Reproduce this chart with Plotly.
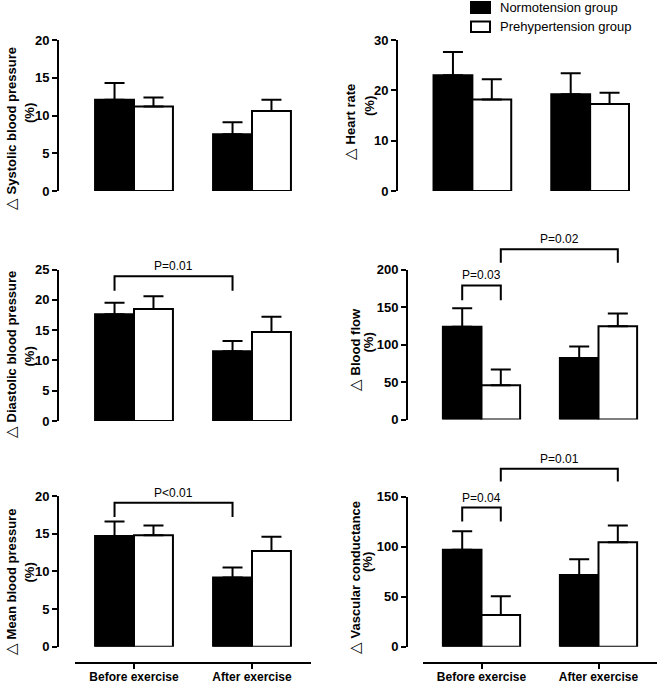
import plotly.graph_objects as go

# Figure size (px)
W, H = 661, 683

# Data (mean change in %, SEM)

categories = ["Before exercise", "After exercise"]
groups = ["Normotension group", "Prehypertension group"]

sbp_normo = [12.1, 7.5]
sbp_normo_sem = [2.2, 1.6]
sbp_pre = [11.2, 10.6]
sbp_pre_sem = [1.2, 1.5]

hr_normo = [23.0, 19.2]
hr_normo_sem = [4.6, 4.2]
hr_pre = [18.2, 17.3]
hr_pre_sem = [4.0, 2.2]

dbp_normo = [17.6, 11.5]
dbp_normo_sem = [1.9, 1.7]
dbp_pre = [18.5, 14.7]
dbp_pre_sem = [2.1, 2.5]

bf_normo = [123.5, 82.1]
bf_normo_sem = [24.9, 15.2]
bf_pre = [45.7, 124.4]
bf_pre_sem = [21.0, 16.9]

mbp_normo = [14.7, 9.2]
mbp_normo_sem = [1.9, 1.3]
mbp_pre = [14.8, 12.7]
mbp_pre_sem = [1.3, 1.9]

vc_normo = [96.7, 71.7]
vc_normo_sem = [18.6, 15.6]
vc_pre = [31.7, 104.3]
vc_pre_sem = [18.6, 16.7]

panel_titles = ["Systolic blood pressure", "Heart rate", "Diastolic blood pressure",
                "Blood flow", "Mean blood pressure", "Vascular conductance"]
y_max = [20, 30, 25, 200, 20, 150]
y_dtick = [5, 10, 5, 50, 5, 50]

# significance brackets: panel, (group, series) from, (group, series) to, top, leg end, label
brackets = [
    (3, (0, 0), (1, 0), 23.9, 21.5, "P=0.01"),
    (4, (0, 0), (0, 1), 178.7, 159, "P=0.03"),
    (4, (0, 1), (1, 1), 227, 209, "P=0.02"),
    (5, (0, 0), (1, 0), 19.1, 17.2, "P<0.01"),
    (6, (0, 0), (0, 1), 139, 125, "P=0.04"),
    (6, (0, 1), (1, 1), 177.7, 165, "P=0.01"),
]

panels = [
    (sbp_normo, sbp_normo_sem, sbp_pre, sbp_pre_sem),
    (hr_normo, hr_normo_sem, hr_pre, hr_pre_sem),
    (dbp_normo, dbp_normo_sem, dbp_pre, dbp_pre_sem),
    (bf_normo, bf_normo_sem, bf_pre, bf_pre_sem),
    (mbp_normo, mbp_normo_sem, mbp_pre, mbp_pre_sem),
    (vc_normo, vc_normo_sem, vc_pre, vc_pre_sem),
]

# Layout geometry in pixels: y-axis x, x-domain, y-domain (top, bottom),
# title line centre, "(%)" centre
geom = [
    dict(yax=58, xd=(75, 311), yd=(40, 191), t1=(10, 129), t2=(29.5, 113.5)),
    dict(yax=397, xd=(413.5, 649), yd=(40, 191), t1=(349, 122), t2=(369, 106)),
    dict(yax=58, xd=(75, 311), yd=(269.5, 421), t1=(10, 355), t2=(28.5, 357)),
    dict(yax=407, xd=(423, 657), yd=(269.5, 419.5), t1=(354, 350), t2=(368, 342.5)),
    dict(yax=58, xd=(75, 311), yd=(496, 646.7), t1=(10, 582), t2=(29, 572.5)),
    dict(yax=407, xd=(423, 657), yd=(496.5, 646.7), t1=(354, 578), t2=(367.5, 562.5)),
]
X_AXIS_Y = 663.3
BARGAP = 0.34
FONT = "Arial, Liberation Sans, sans-serif"


def px_x(v):
    return v / W


def px_y(v):
    return 1 - v / H


fig = go.Figure()
layout = {}
shapes = []
annotations = []
colors = ["black", "white"]

for i, (normo, normo_sem, pre, pre_sem) in enumerate(panels):
    n = i + 1
    g = geom[i]
    for k, (vals, sem) in enumerate([(normo, normo_sem), (pre, pre_sem)]):
        fig.add_trace(go.Bar(
            x=categories,
            y=vals,
            name=groups[k],
            xaxis=f"x{n}",
            yaxis=f"y{n}",
            marker=dict(color=colors[k], line=dict(color="black", width=2)),
            error_y=dict(
                type="data",
                symmetric=False,
                array=sem,
                arrayminus=[0] * len(sem),
                color="black",
                thickness=2,
                width=10
            ),
            showlegend=False
        ))

    bottom = n >= 5
    layout[f"xaxis{n}"] = dict(
        domain=[px_x(g["xd"][0]), px_x(g["xd"][1])],
        type="category",
        range=[-0.5, 1.5],
        anchor="free",
        position=px_y(X_AXIS_Y) if bottom else px_y(g["yd"][1]),
        visible=bottom,
        showline=True,
        linecolor="black",
        linewidth=2,
        ticks="outside",
        ticklen=5,
        tickwidth=2,
        tickcolor="black",
        showgrid=False,
        automargin=False,
        ticklabelstandoff=-3,
        tickfont=dict(family=FONT, size=12, color="black", weight="bold"),
        fixedrange=True
    )
    layout[f"yaxis{n}"] = dict(
        domain=[px_y(g["yd"][1]), px_y(g["yd"][0])],
        range=[0, y_max[i]],
        dtick=y_dtick[i],
        anchor="free",
        position=px_x(g["yax"]),
        showline=True,
        linecolor="black",
        linewidth=2,
        ticks="outside",
        ticklen=5,
        tickwidth=2,
        tickcolor="black",
        showgrid=False,
        zeroline=False,
        automargin=False,
        tickfont=dict(family=FONT, size=13, color="black", weight="bold"),
        fixedrange=True
    )

    # axis titles
    annotations.append(dict(
        text=f"<span style='font-size:15px'>△</span> <b>{panel_titles[i]}</b>",
        xref="paper", yref="paper",
        x=px_x(g["t1"][0]), y=px_y(g["t1"][1]),
        xanchor="center", yanchor="middle",
        textangle=-90, showarrow=False,
        font=dict(family=FONT, size=13, color="black")
    ))
    annotations.append(dict(
        text="<b>(%)</b>",
        xref="paper", yref="paper",
        x=px_x(g["t2"][0]), y=px_y(g["t2"][1]),
        xanchor="center", yanchor="middle",
        textangle=-90, showarrow=False,
        font=dict(family=FONT, size=13, color="black")
    ))

# Significance brackets
half = (1 - BARGAP) / 4


def bar_x(pos):
    grp, ser = pos
    return grp + (-half if ser == 0 else half)


for n, a, b, top, leg, label in brackets:
    ymx = y_max[n - 1]
    x0, x1 = bar_x(a), bar_x(b)
    shapes.append(dict(
        type="path",
        xref=f"x{n}", yref=f"y{n} domain",
        path=f"M {x0},{leg / ymx} L {x0},{top / ymx} L {x1},{top / ymx} L {x1},{leg / ymx}",
        line=dict(color="black", width=2)
    ))
    annotations.append(dict(
        text=label,
        xref=f"x{n}", yref=f"y{n} domain",
        x=(x0 + x1) / 2, y=top / ymx,
        yshift=10, xanchor="center", yanchor="middle",
        showarrow=False,
        font=dict(family=FONT, size=12, color="black")
    ))

# Legend
legend_boxes = [(2, 13), (21.5, 32)]
for k, name in enumerate(groups):
    y0, y1 = legend_boxes[k]
    shapes.append(dict(
        type="rect", xref="paper", yref="paper",
        x0=px_x(471), x1=px_x(490), y0=px_y(y1), y1=px_y(y0),
        fillcolor=colors[k], line=dict(color="black", width=2)
    ))
    annotations.append(dict(
        text=name, xref="paper", yref="paper",
        x=px_x(498), y=px_y((y0 + y1) / 2),
        xanchor="left", yanchor="middle", showarrow=False,
        font=dict(family=FONT, size=13, color="black")
    ))

fig.update_layout(
    template="none",
    width=W,
    height=H,
    margin=dict(l=0, r=0, t=0, b=0, autoexpand=False),
    paper_bgcolor="white",
    plot_bgcolor="white",
    barmode="group",
    bargap=BARGAP,
    bargroupgap=0,
    shapes=shapes,
    annotations=annotations,
    showlegend=False,
    **layout
)
# page body has a default 8px margin; drop it so the figure fills the window
fig.write_html(
    "out.html",
    config={"displayModeBar": False},
    post_script="document.body.style.margin='0';"
)
